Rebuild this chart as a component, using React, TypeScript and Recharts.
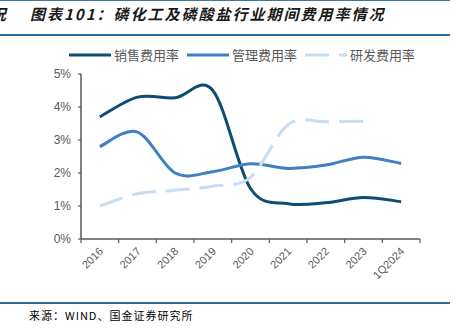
import React from 'react';
import { LineChart, Line, XAxis, YAxis } from 'recharts';

const categories = ['2016', '2017', '2018', '2019', '2020', '2021', '2022', '2023', '1Q2024'];
const salesRate = [3.7, 4.3, 4.28, 4.5, 1.53, 1.07, 1.1, 1.26, 1.13];
const adminRate = [2.8, 3.24, 2.0, 2.04, 2.28, 2.14, 2.24, 2.48, 2.29];
const rdRate: (number | null)[] = [1.0, 1.37, 1.48, 1.6, 1.87, 3.47, 3.55, 3.57, null];
const yTicks = [0, 1, 2, 3, 4, 5];
const seriesNames = ['销售费用率', '管理费用率', '研发费用率'];
const titleText = '图表101：磷化工及磷酸盐行业期间费用率情况';
const sourceText = '来源：WIND、国金证券研究所';

const COLORS = ['#0d4c73', '#3f7fc3', '#c7ddf1'];
const DASHES = [undefined, undefined, '24 10'];
const AXIS = '#595959';

const data = categories.map((c, i) => ({
  year: c,
  sales: salesRate[i],
  admin: adminRate[i],
  rd: rdRate[i],
}));
const keys = ['sales', 'admin', 'rd'];

// Excel-like smoothing (Catmull-Rom / cardinal tension 0)
const excelSmooth: any = (context: any) => {
  let pts: number[][] = [];
  return {
    areaStart() {},
    areaEnd() {},
    lineStart() {
      pts = [];
    },
    point(x: number, y: number) {
      pts.push([+x, +y]);
    },
    lineEnd() {
      const n = pts.length;
      if (n === 0) return;
      context.moveTo(pts[0][0], pts[0][1]);
      if (n === 1) {
        context.lineTo(pts[0][0], pts[0][1]);
        return;
      }
      for (let i = 0; i < n - 1; i++) {
        const p0 = pts[i - 1] || pts[i];
        const p1 = pts[i];
        const p2 = pts[i + 1];
        const p3 = pts[i + 2] || pts[i + 1];
        context.bezierCurveTo(
          p1[0] + (p2[0] - p0[0]) / 6,
          p1[1] + (p2[1] - p0[1]) / 6,
          p2[0] - (p3[0] - p1[0]) / 6,
          p2[1] - (p3[1] - p1[1]) / 6,
          p2[0],
          p2[1]
        );
      }
    },
  };
};

const TICK_SIZE = 4;
const TICK_MARGIN = 9;

const XTick = (props: any) => {
  const { x, y, payload, index } = props;
  const off = payload && typeof payload.offset === 'number' ? payload.offset : 0;
  const axisY = y - TICK_SIZE - TICK_MARGIN;
  const isLast = index === categories.length - 1;
  return (
    <g>
      <line x1={x - off} x2={x - off} y1={axisY} y2={axisY + TICK_SIZE} stroke={AXIS} strokeWidth={1.2} />
      {isLast && (
        <line x1={x + off} x2={x + off} y1={axisY} y2={axisY + TICK_SIZE} stroke={AXIS} strokeWidth={1.2} />
      )}
      <text
        x={x + 4}
        y={y}
        textAnchor="end"
        fontSize={11}
        fontFamily="'Liberation Sans', Arial, sans-serif"
        fill={AXIS}
        transform={`rotate(-45, ${x + 4}, ${y})`}
      >
        {payload.value}
      </text>
    </g>
  );
};

const LegendBox = () => (
  <div
    style={{
      position: 'absolute',
      left: 69,
      top: 47,
      display: 'flex',
      alignItems: 'center',
      fontFamily: "'Noto Sans CJK SC', sans-serif",
      fontSize: 13,
      color: '#595959',
      lineHeight: '16px',
      whiteSpace: 'nowrap',
    }}
  >
    {seriesNames.map((n, i) => (
      <div key={n} style={{ display: 'flex', alignItems: 'center', marginRight: 8 }}>
        <svg width={42} height={16} style={{ display: 'block' }}>
          <line
            x1={0}
            x2={42}
            y1={8}
            y2={8}
            stroke={COLORS[i]}
            strokeWidth={3}
            strokeDasharray={DASHES[i]}
          />
        </svg>
        <span style={{ marginLeft: 3 }}>{n}</span>
      </div>
    ))}
  </div>
);

export default function App() {
  return (
    <div
      style={{
        position: 'absolute',
        left: 0,
        top: 0,
        width: 459,
        height: 334,
        background: '#fff',
        overflow: 'hidden',
      }}
    >
      <div style={{ position: 'absolute', left: 0, top: 0, width: 450, height: 1, background: '#3a78a8' }} />
      <div
        style={{
          position: 'absolute',
          left: -9,
          top: 5,
          fontFamily: "'Noto Sans CJK SC', sans-serif",
          fontStyle: 'italic',
          fontWeight: 600,
          fontSize: 15,
          lineHeight: '18px',
          color: '#1a1a1a',
        }}
      >
        况
      </div>
      <div
        style={{
          position: 'absolute',
          left: 30,
          top: 5,
          fontFamily: "'Noto Sans CJK SC', sans-serif",
          fontStyle: 'italic',
          fontWeight: 600,
          fontSize: 15,
          lineHeight: '18px',
          letterSpacing: 2,
          color: '#1a1a1a',
          whiteSpace: 'nowrap',
        }}
      >
        {titleText}
      </div>
      <div style={{ position: 'absolute', left: 0, top: 34, width: 450, height: 2, background: '#2d6c9c' }} />

      <div style={{ position: 'absolute', left: 0, top: 0 }}>
        <LineChart
          width={459}
          height={334}
          data={data}
          margin={{ top: 74, right: 39, bottom: 0, left: 0 }}
        >
          <XAxis
            xAxisId="top"
            orientation="top"
            dataKey="year"
            scale="band"
            height={0}
            tick={false}
            tickLine={false}
            axisLine={{ stroke: '#d9d9d9', strokeWidth: 1 }}
          />
          <YAxis
            yAxisId="r"
            orientation="right"
            width={0}
            domain={[0, 5]}
            ticks={yTicks}
            tick={false}
            tickLine={false}
            axisLine={{ stroke: '#d9d9d9', strokeWidth: 1 }}
          />
          <XAxis
            dataKey="year"
            scale="band"
            height={95}
            tickLine={false}
            tickSize={TICK_SIZE}
            tickMargin={TICK_MARGIN}
            interval={0}
            axisLine={{ stroke: AXIS, strokeWidth: 1.5 }}
            tick={<XTick />}
          />
          <YAxis
            width={81}
            domain={[0, 5]}
            ticks={yTicks}
            interval={0}
            tickFormatter={(v: number) => `${v}%`}
            tickSize={3}
            tickMargin={7}
            tickLine={{ stroke: AXIS, strokeWidth: 1.2 }}
            axisLine={{ stroke: AXIS, strokeWidth: 1.5 }}
            tick={{ fill: AXIS, fontSize: 12, fontFamily: "'Liberation Sans', Arial, sans-serif" }}
          />
          {keys.map((k, i) => (
            <Line
              key={k}
              dataKey={k}
              name={seriesNames[i]}
              type={excelSmooth}
              stroke={COLORS[i]}
              strokeWidth={3}
              strokeDasharray={DASHES[i]}
              dot={false}
              activeDot={false}
              isAnimationActive={false}
            />
          ))}
        </LineChart>
      </div>

      <LegendBox />

      <div style={{ position: 'absolute', left: 0, top: 302, width: 450, height: 2, background: '#2d6c9c' }} />
      <div
        style={{
          position: 'absolute',
          left: 29,
          top: 308,
          fontFamily: "'Noto Sans CJK SC', sans-serif",
          fontSize: 11,
          lineHeight: '14px',
          letterSpacing: 1,
          color: '#000',
          whiteSpace: 'nowrap',
        }}
      >
        {sourceText}
      </div>
    </div>
  );
}
